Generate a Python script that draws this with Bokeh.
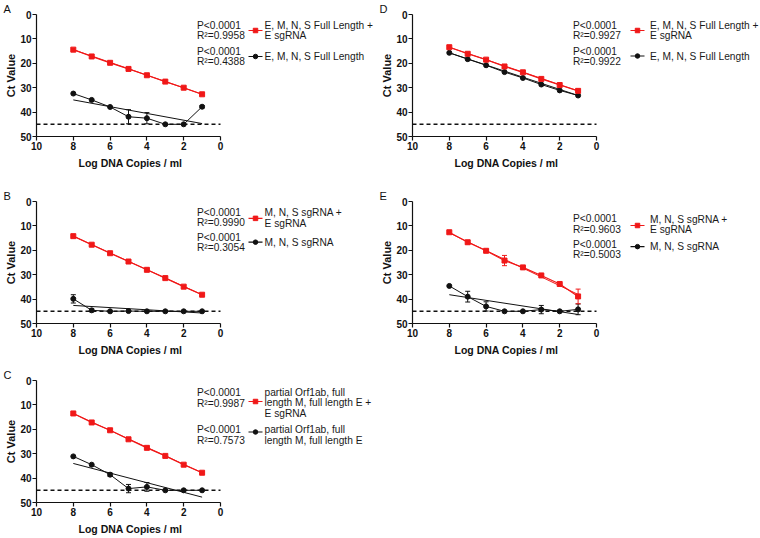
from bokeh.plotting import figure
from bokeh.layouts import column, row
from bokeh.models import Range1d, FixedTicker, Whisker, TeeHead, ColumnDataSource, Title
from bokeh.core.properties import value
from bokeh.embed import file_html
from bokeh.resources import INLINE

# ---------------- data ----------------
X = [8, 7, 6, 5, 4, 3, 2, 1]
FIT_X = [8, 1]
X_TICKS = [10, 8, 6, 4, 2, 0]
X_BOUNDS = [10, 0]
Y_TICKS = [0, 10, 20, 30, 40, 50]
LOD = 45

A_RED = [14.4, 17.2, 19.8, 22.3, 24.9, 27.5, 30.0, 32.7]
A_RED_SD = [0, 0, 0, 0, 0, 0, 0, 0]
A_RED_FIT = [14.4, 32.7]
A_BLK = [32.4, 35.0, 37.9, 41.9, 42.5, 45.0, 45.0, 37.8]
A_BLK_SD = [0, 0, 0, 2.9, 2.3, 0, 0, 0.5]
A_BLK_FIT = [35.0, 44.7]

B_RED = [14.2, 17.7, 21.2, 24.6, 28.0, 31.4, 34.9, 38.2]
B_RED_SD = [0, 0, 0, 0, 0, 0, 0, 0]
B_RED_FIT = [14.2, 38.2]
B_BLK = [39.9, 44.6, 45.0, 44.9, 45.0, 45.0, 45.0, 45.0]
B_BLK_SD = [1.7, 0.6, 0, 0, 0, 0, 0, 0]
B_BLK_FIT = [42.6, 45.7]

C_RED = [13.5, 17.2, 20.4, 24.1, 27.6, 30.9, 34.5, 37.8]
C_RED_SD = [0, 0, 0, 0, 0, 0, 0, 0]
C_RED_FIT = [13.5, 37.8]
C_BLK = [31.1, 34.5, 38.6, 44.3, 43.6, 45.0, 45.0, 45.0]
C_BLK_SD = [0, 0, 0.7, 1.7, 1.8, 0, 0, 0]
C_BLK_FIT = [34.0, 47.8]

D_RED = [13.4, 16.1, 18.5, 21.3, 23.7, 26.4, 28.9, 31.3]
D_RED_SD = [0, 0, 0, 0, 0, 0, 0, 0]
D_RED_FIT = [13.4, 31.3]
D_BLK = [15.7, 18.3, 20.8, 23.6, 26.0, 28.7, 31.1, 33.2]
D_BLK_SD = [0, 0, 0, 0, 0, 0, 0, 0]
D_BLK_FIT = [15.7, 33.2]

E_RED = [12.6, 16.7, 20.2, 24.2, 27.0, 30.3, 33.8, 38.9]
E_RED_SD = [0, 0.7, 0.4, 2.1, 0.3, 0.3, 0.3, 3.0]
E_RED_FIT = [12.9, 38.1]
E_BLK = [34.6, 39.0, 43.0, 45.0, 45.0, 44.3, 45.0, 44.2]
E_BLK_SD = [0, 2.2, 1.9, 0, 0, 1.7, 0, 2.2]
E_BLK_FIT = [38.2, 46.3]

FULL_RED_LBL = ["E, M, N, S Full Length +", "E sgRNA"]
FULL_BLK_LBL = ["E, M, N, S Full Length"]
SG_RED_LBL = ["M, N, S sgRNA +", "E sgRNA"]
SG_BLK_LBL = ["M, N, S sgRNA"]
ORF_RED_LBL = ["partial Orf1ab, full", "length M, full length E +", "E sgRNA"]
ORF_BLK_LBL = ["partial Orf1ab, full", "length M, full length E"]

A_STATS = (["P<0.0001", "R\u00b2=0.9958"], ["P<0.0001", "R\u00b2=0.4388"])
B_STATS = (["P<0.0001", "R\u00b2=0.9990"], ["P<0.0001", "R\u00b2=0.3054"])
C_STATS = (["P<0.0001", "R\u00b2=0.9987"], ["P<0.0001", "R\u00b2=0.7573"])
D_STATS = (["P<0.0001", "R\u00b2=0.9927"], ["P<0.0001", "R\u00b2=0.9922"])
E_STATS = (["P<0.0001", "R\u00b2=0.9603"], ["P<0.0001", "R\u00b2=0.5003"])

X_TITLE = "Log DNA Copies / ml"
Y_TITLE = "Ct Value"

# ---------------- style / layout ----------------
FONT = "Liberation Sans"
RED = "#f01818"
BLACK = "#111111"
PX_X = 18.4          # px per x unit on the axis
LH = 10.6            # legend line height (px)
BORDER_L = 36
FIG_H = 179

# legend layout (px from frame top): (stats_y, label_y, marker_y) for red and black
LAY_A = ((10.5, 10.5, 16.0), (36.5, 42.0, 42.0))
LAY_B = ((11.0, 11.5, 17.0), (36.0, 41.0, 41.0))
LAY_C = ((12.0, 11.5, 21.0), (49.0, 49.0, 51.5))
LAY_D = ((10.5, 10.5, 16.0), (36.5, 41.5, 41.5))
LAY_E = ((17.2, 17.8, 24.2), (43.0, 45.5, 45.5))
# x offsets (px from frame left): stats, marker line start, end, label
XOFF_L = (160.5, 212.0, 226.0, 228.0)
XOFF_R = (160.5, 218.0, 232.0, 237.5)


def make_panel(letter, red, red_sd, red_fit, blk, blk_sd, blk_fit, stats,
               red_lbl, blk_lbl, lay, xoff, width, top, frame_h):
    bottom = FIG_H - top - frame_h
    frame_w = width - BORDER_L
    x_end = 10 - frame_w / PX_X
    py = frame_h / 50.0

    def fx(dx):
        return 10 - dx / PX_X

    def fy(dy):
        return dy / py

    p = figure(width=width, height=FIG_H, x_range=Range1d(10, x_end),
               y_range=Range1d(50, 0), output_backend="svg", toolbar_location=None,
               min_border_left=BORDER_L, min_border_right=0, min_border_top=top,
               min_border_bottom=bottom, title=letter)
    p.outline_line_color = None
    p.grid.visible = False
    p.background_fill_color = "white"

    p.title.align = "left"
    p.title.offset = -33
    p.title.standoff = 0
    p.title.text_font = FONT
    p.title.text_font_style = "normal"
    p.title.text_font_size = "11px"
    p.title.text_color = BLACK

    for ax in (p.xaxis[0], p.yaxis[0]):
        ax.axis_line_color = BLACK
        ax.axis_line_width = 1.2
        ax.major_tick_line_color = BLACK
        ax.major_tick_line_width = 1.2
        ax.major_tick_out = 4
        ax.major_tick_in = 0
        ax.minor_tick_out = 0
        ax.minor_tick_in = 0
        ax.major_label_text_font = FONT
        ax.major_label_text_font_style = "bold"
        ax.major_label_text_font_size = "10px"
        ax.major_label_text_color = BLACK
        ax.major_label_standoff = 1
    p.xaxis.bounds = tuple(sorted(X_BOUNDS))
    p.xaxis.ticker = FixedTicker(ticks=X_TICKS)
    p.yaxis.ticker = FixedTicker(ticks=Y_TICKS)
    p.yaxis.axis_label = Y_TITLE
    p.yaxis.axis_label_text_font = FONT
    p.yaxis.axis_label_text_font_style = "bold"
    p.yaxis.axis_label_text_font_size = "11px"
    p.yaxis.axis_label_text_color = BLACK
    p.yaxis.axis_label_standoff = 0

    # x-axis title (frame is wider than the axis, so place it as a below-title)
    p.add_layout(Title(text=X_TITLE, align="left", offset=42, standoff=5,
                       text_font=FONT, text_font_style="bold",
                       text_font_size="10.5px", text_color=BLACK), "below")

    # detection limit
    p.line(X_BOUNDS, [LOD, LOD], line_color=BLACK, line_width=1.5, line_dash="4 3")

    # black series
    p.line(FIT_X, blk_fit, line_color=BLACK, line_width=1)
    p.line(X, blk, line_color=BLACK, line_width=1)
    p.scatter(X, blk, marker="circle", size=5, color=BLACK)
    # red series
    p.line(FIT_X, red_fit, line_color=RED, line_width=1)
    p.line(X, red, line_color=RED, line_width=1.2)
    p.scatter(X, red, marker="square", size=5, color=RED)

    for ys, sd, col in ((blk, blk_sd, BLACK), (red, red_sd, RED)):
        bx = [x for x, s in zip(X, sd) if s > 0]
        if not bx:
            continue
        up = [y - s for y, s in zip(ys, sd) if s > 0]
        lo = [y + s for y, s in zip(ys, sd) if s > 0]
        src = ColumnDataSource(dict(base=bx, upper=up, lower=lo))
        w = Whisker(source=src, base="base", upper="upper", lower="lower",
                    line_color=col, line_width=1,
                    upper_head=TeeHead(size=5, line_color=col, line_width=1),
                    lower_head=TeeHead(size=5, line_color=col, line_width=1))
        p.add_layout(w)

    # legend
    txt_x, txt_y, txt = [], [], []
    for (sy, ly, my), st, lbl, col, mk in ((lay[0], stats[0], red_lbl, RED, "square"),
                                            (lay[1], stats[1], blk_lbl, BLACK, "circle")):
        for i, s in enumerate(st):
            txt_x.append(fx(xoff[0]))
            txt_y.append(fy(sy + i * LH))
            txt.append(s)
        for i, s in enumerate(lbl):
            txt_x.append(fx(xoff[3]))
            txt_y.append(fy(ly + i * LH))
            txt.append(s)
        p.line([fx(xoff[1]), fx(xoff[2])], [fy(my), fy(my)], line_color=col, line_width=1.2)
        p.scatter([fx((xoff[1] + xoff[2]) / 2)], [fy(my)], marker=mk, size=4.5, color=col)
    p.text(x=txt_x, y=txt_y, text=txt, text_font=value(FONT), text_font_size="10.2px",
           text_baseline="middle", text_align="left", text_color="#1a1a1a")
    return p


pA = make_panel("A", A_RED, A_RED_SD, A_RED_FIT, A_BLK, A_BLK_SD, A_BLK_FIT, A_STATS,
                FULL_RED_LBL, FULL_BLK_LBL, LAY_A, XOFF_L, 376, 14, 122)
pD = make_panel("D", D_RED, D_RED_SD, D_RED_FIT, D_BLK, D_BLK_SD, D_BLK_FIT, D_STATS,
                FULL_RED_LBL, FULL_BLK_LBL, LAY_D, XOFF_R, 384, 14, 122)
pB = make_panel("B", B_RED, B_RED_SD, B_RED_FIT, B_BLK, B_BLK_SD, B_BLK_FIT, B_STATS,
                SG_RED_LBL, SG_BLK_LBL, LAY_B, XOFF_L, 376, 22, 123)
pE = make_panel("E", E_RED, E_RED_SD, E_RED_FIT, E_BLK, E_BLK_SD, E_BLK_FIT, E_STATS,
                SG_RED_LBL, SG_BLK_LBL, LAY_E, XOFF_R, 384, 22, 123)
pC = make_panel("C", C_RED, C_RED_SD, C_RED_FIT, C_BLK, C_BLK_SD, C_BLK_FIT, C_STATS,
                ORF_RED_LBL, ORF_BLK_LBL, LAY_C, XOFF_L, 376, 22, 122)

layout = column(row(pA, pD), row(pB, pE), row(pC))

with open("out.html", "w") as f:
    f.write(file_html(layout, INLINE))
